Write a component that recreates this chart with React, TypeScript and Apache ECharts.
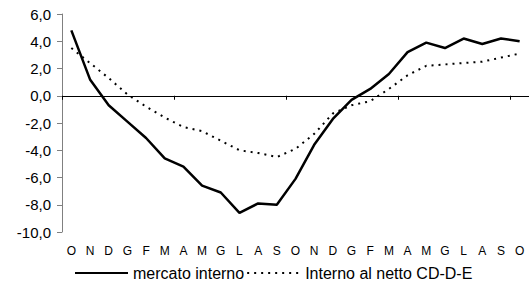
import React, { useEffect, useRef } from "react";
import * as echarts from "echarts";

const categories = [
  "O", "N", "D", "G", "F", "M", "A", "M", "G", "L", "A", "S",
  "O", "N", "D", "G", "F", "M", "A", "M", "G", "L", "A", "S", "O",
];

const mercatoInterno = [
  4.8, 1.2, -0.7, -1.9, -3.1, -4.6, -5.2, -6.6, -7.1, -8.6, -7.9, -8.0,
  -6.1, -3.6, -1.7, -0.3, 0.5, 1.6, 3.2, 3.9, 3.5, 4.2, 3.8, 4.2, 4.0,
];

const internoNetto = [
  3.5, 2.4, 1.3, 0.1, -0.8, -1.6, -2.3, -2.6, -3.3, -4.0, -4.2, -4.5,
  -3.9, -2.8, -1.3, -0.7, -0.4, 0.5, 1.5, 2.2, 2.3, 2.4, 2.5, 2.8, 3.1,
];

const seriesNames = ["mercato interno", "Interno al netto CD-D-E"];

const FONT = "'Liberation Sans', Arial, sans-serif";

export default function App() {
  const ref = useRef<HTMLDivElement>(null);

  useEffect(() => {
    if (!ref.current) return;
    const chart = echarts.init(ref.current, undefined, { renderer: "svg" });
    chart.setOption({
      animation: false,
      backgroundColor: "#ffffff",
      grid: { left: 62, top: 14, right: -5.5, bottom: 49, containLabel: false },
      legend: {
        left: 74,
        top: 265,
        padding: 0,
        itemWidth: 53,
        itemHeight: 14,
        itemGap: 2,
        data: seriesNames,
        itemStyle: { opacity: 0 },
        textStyle: {
          fontFamily: FONT,
          fontSize: 16,
          lineHeight: 16,
          color: "#000",
        },
      },
      xAxis: [
        {
          type: "category",
          data: categories,
          boundaryGap: true,
          position: "bottom",
          axisLine: { onZero: true, lineStyle: { color: "#000", width: 1 } },
          axisTick: { show: true, interval: 5, length: 4, lineStyle: { color: "#000" } },
          axisLabel: { show: false },
          splitLine: { show: false },
        },
        {
          type: "category",
          data: categories,
          boundaryGap: true,
          position: "bottom",
          axisLine: { show: false, onZero: false },
          axisTick: { show: false },
          axisLabel: {
            show: true,
            interval: 0,
            margin: 13,
            fontFamily: FONT,
            fontSize: 12,
            color: "#000",
          },
          splitLine: { show: false },
        },
      ],
      yAxis: {
        type: "value",
        min: -10,
        max: 6,
        interval: 2,
        axisLine: { show: true, lineStyle: { color: "#808080", width: 1 } },
        axisTick: { show: true, length: 5, lineStyle: { color: "#808080" } },
        axisLabel: {
          margin: 11,
          fontFamily: FONT,
          fontSize: 15,
          color: "#000",
          formatter: (v: number) => v.toFixed(1).replace(".", ","),
        },
        splitLine: { show: false },
      },
      series: [
        {
          name: seriesNames[0],
          type: "line",
          xAxisIndex: 0,
          data: mercatoInterno,
          symbol: "none",
          lineStyle: { color: "#000", width: 2.5, type: "solid" },
          itemStyle: { color: "#000" },
        },
        {
          name: seriesNames[1],
          type: "line",
          xAxisIndex: 0,
          data: internoNetto,
          symbol: "none",
          lineStyle: { color: "#000", width: 2, type: [2, 5] },
          itemStyle: { color: "#000" },
        },
      ],
    });
    return () => chart.dispose();
  }, []);

  return (
    <div
      ref={ref}
      style={{ position: "fixed", left: 0, top: 0, width: 529, height: 281, background: "#fff" }}
    />
  );
}
